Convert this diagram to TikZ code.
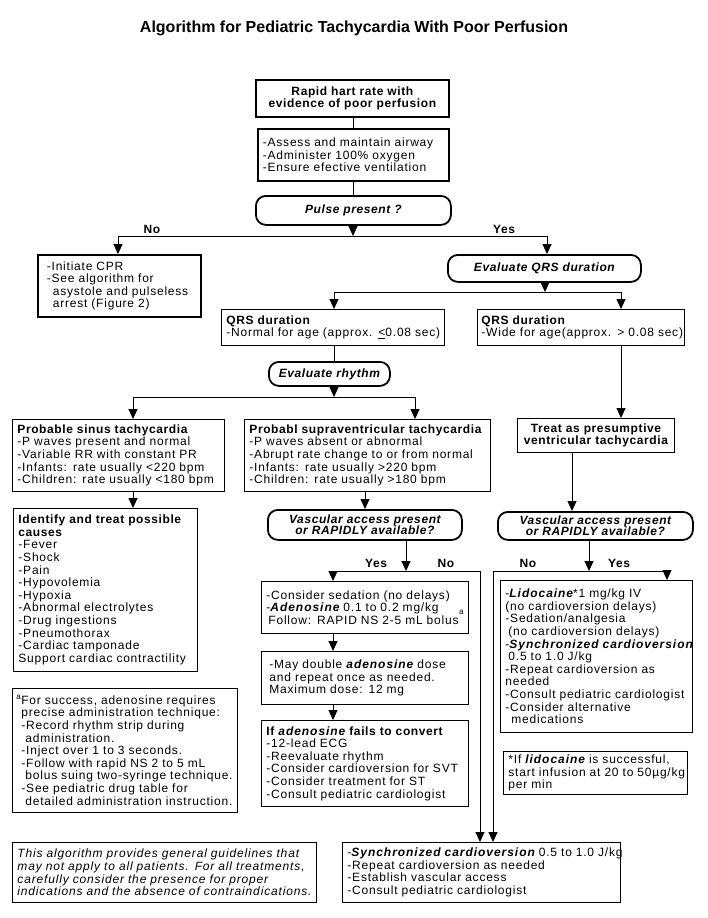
\documentclass[tikz,border=0pt]{standalone}
\usepackage{fontspec}
\setmainfont{Liberation Sans}[UprightFeatures={LetterSpace=6.5}, ItalicFeatures={LetterSpace=7}, BoldFeatures={LetterSpace=5}, BoldItalicFeatures={LetterSpace=5}]
\newfontfamily\titlefont{Liberation Sans}
\newfontfamily\bifam{Liberation Sans}[LetterSpace=8]
\usetikzlibrary{arrows.meta}
\newcommand\bfi[1]{{\bifam\bfseries\itshape #1}}
\newcommand\bodyfont{\fontsize{12}{12.6}\selectfont}
\newcommand\pillfont{\fontsize{12}{11.5}\selectfont\bfseries\itshape}
\begin{document}
\begin{tikzpicture}[x=1pt,y=-1pt,
  cbox/.style={draw, line width=0.9pt, anchor=north west, inner xsep=5pt, inner ysep=1pt, align=center, font=\bodyfont\bfseries},
  box/.style={draw, line width=0.9pt, anchor=north west, inner xsep=5pt, inner ysep=1pt, align=left, font=\bodyfont,
    execute at begin node={\rightskip=0pt plus 1fil minus 1000pt}},
  thickbox/.style={line width=1.8pt},
  pill/.style={draw, line width=1.8pt, rounded corners=10pt, anchor=north west, inner sep=0pt, align=center, font=\pillfont},
  lbl/.style={font=\bodyfont\bfseries, inner sep=0pt},
  conn/.style={line width=0.9pt},
  arr/.style={conn, -{Triangle[width=9pt,length=10pt]}}]
\useasboundingbox[fill=white] (0,0) rectangle (708,918);

\node[font=\titlefont\fontsize{16}{18}\selectfont\bfseries, inner sep=0pt] (title) at (354,28) {Algorithm for Pediatric Tachycardia With Poor Perfusion};

\node[cbox, thickbox, text width=183pt, minimum height=37pt] (b1) at (255,79) {Rapid hart rate with\\evidence of poor perfusion};
\node[box, thickbox, text width=181pt, minimum height=52pt] (b2) at (257,128) {-Assess and maintain airway\\-Administer 100\% oxygen\\-Ensure efective ventilation};
\node[pill, minimum width=195pt, minimum height=29pt] (pulse) at (255,195) {Pulse present ?};

\node[lbl] (no1) at (152,229) {No};
\node[lbl] (yes1) at (504,229) {Yes};

\node[box, thickbox, inner xsep=9pt, text width=145pt, minimum height=62pt] (cpr) at (37,254) {-Initiate CPR\\-See algorithm for\\\hspace*{6pt}asystole and pulseless\\\hspace*{6pt}arrest (Figure 2)};
\node[pill, minimum width=193pt, minimum height=27pt] (evq) at (447,254) {Evaluate QRS duration};

\node[box, text width=213pt, minimum height=36pt] (qrsL) at (221,309) {\textbf{QRS duration}\\-Normal for age (approx. \underline{<}0.08 sec)};
\node[box, inner xsep=4pt, text width=199pt, minimum height=36pt] (qrsR) at (477,309) {\textbf{QRS duration}\\-Wide for age(approx. > 0.08 sec)};

\node[pill, minimum width=121pt, minimum height=24pt] (rhythm) at (268,361) {Evaluate rhythm};

\node[box, text width=202pt, minimum height=72pt] (sinus) at (12,419) {\textbf{Probable sinus tachycardia}\\-P waves present and normal\\-Variable RR with constant PR\\-Infants: rate usually <220 bpm\\-Children: rate usually <180 bpm};
\node[box, text width=236pt, minimum height=72pt] (supra) at (244,419) {\textbf{Probabl supraventricular tachycardia}\\-P waves absent or abnormal\\-Abrupt rate change to or from normal\\-Infants: rate usually >220 bpm\\-Children: rate usually >180 bpm};
\node[cbox, text width=147pt, minimum height=34pt] (treat) at (517,418) {Treat as presumptive\\ventricular tachycardia};

\node[box, text width=174pt, minimum height=163pt] (ident) at (13,508) {\textbf{Identify and treat possible}\\\textbf{causes}\\-Fever\\-Shock\\-Pain\\-Hypovolemia\\-Hypoxia\\-Abnormal electrolytes\\-Drug ingestions\\-Pneumothorax\\-Cardiac tamponade\\Support cardiac contractility};

\node[pill, minimum width=194pt, minimum height=30pt] (vasc1) at (267,509) {Vascular access present\\or RAPIDLY available?};
\node[pill, minimum width=195pt, minimum height=28pt] (vasc2) at (497,511) {Vascular access present\\or RAPIDLY available?};

\node[lbl] (yes2) at (376,563) {Yes};
\node[lbl] (no2) at (446,563) {No};
\node[lbl] (no3) at (528,563) {No};
\node[lbl] (yes3) at (619,563) {Yes};

\node[box, text width=197pt, minimum height=52pt] (sed) at (261,581) {-Consider sedation (no delays)\\-\bfi{Adenosine} 0.1 to 0.2 mg/kg\hfill\raisebox{-3pt}{\fontsize{8}{8}\selectfont a}\\\hspace*{2pt}Follow: RAPID NS 2-5 mL bolus};
\node[box, text width=197pt, minimum height=53pt] (dbl) at (261,651) {\hspace*{3pt}-May double \bfi{adenosine} dose\\\hspace*{3pt}and repeat once as needed.\\\hspace*{3pt}Maximum dose: 12 mg};
\node[box, text width=197pt, minimum height=86pt] (fail) at (261,720) {\textbf{If \bfi{adenosine} fails to convert}\\-12-lead ECG\\-Reevaluate rhythm\\-Consider cardioversion for SVT\\-Consider treatment for ST\\-Consult pediatric cardiologist};

\node[box, text width=182pt, minimum height=152pt] (lido) at (500,580) {-\bfi{Lidocaine}*1 mg/kg IV\\(no cardioversion delays)\\-Sedation/analgesia\\\hspace*{3pt}(no cardioversion delays)\\-\bfi{Synchronized cardioversion}\\\hspace*{3pt}0.5 to 1.0 J/kg\\-Repeat cardioversion as\\needed\\-Consult pediatric cardiologist\\-Consider alternative\\\hspace*{6pt}medications};
\node[box, text width=174pt, minimum height=43pt] (lnote) at (503,751) {*If \bfi{lidocaine} is successful,\\start infusion at 20 to 50µg/kg\\per min};

\node[box, inner xsep=4pt, text width=217pt, minimum height=124pt] (anote) at (12,688) {\textsuperscript{a}For success, adenosine requires\\\hspace*{5pt}precise administration technique:\\\hspace*{5pt}-Record rhythm strip during\\\hspace*{9pt}administration.\\\hspace*{5pt}-Inject over 1 to 3 seconds.\\\hspace*{5pt}-Follow with rapid NS 2 to 5 mL\\\hspace*{9pt}bolus suing two-syringe technique.\\\hspace*{5pt}-See pediatric drug table for\\\hspace*{9pt}detailed administration instruction.};

\node[box, text width=294pt, minimum height=60pt, font=\bodyfont\itshape] (disc) at (12,842) {This algorithm provides general guidelines that\\may not apply to all patients. For all treatments,\\carefully consider the presence for proper\\indications and the absence of contraindications.};
\node[box, text width=268pt, minimum height=60pt] (final) at (342,842) {-\bfi{Synchronized cardioversion} 0.5 to 1.0 J/kg\\-Repeat cardioversion as needed\\-Establish vascular access\\-Consult pediatric cardiologist};

% junction coordinates
\coordinate (xm) at (353,0);
\coordinate (j1) at (353,236);
\coordinate (j1L) at (118,236);
\coordinate (j1R) at (547,236);
\coordinate (j2) at (545,292);
\coordinate (j2L) at (334,292);
\coordinate (j2R) at (621,292);
\coordinate (j3) at (334,397);
\coordinate (j3L) at (133,397);
\coordinate (j3R) at (415,397);
\coordinate (xs) at (365,0);
\coordinate (j4) at (406,571);
\coordinate (j4L) at (333,571);
\coordinate (j4R) at (480,571);
\coordinate (xt) at (572,0);
\coordinate (j5) at (589,571);
\coordinate (j5L) at (493,571);
\coordinate (j5R) at (667,571);

\draw[conn] (b1.south -| xm) -- (b2.north -| xm);
\draw[conn] (b2.south -| xm) -- (pulse.north -| xm);
\draw[arr] (pulse.south -| xm) -- (j1);
\draw[conn] (j1L) -- (j1R);
\draw[arr] (j1L) -- (cpr.north -| j1L);
\draw[arr] (j1R) -- (evq.north -| j1R);
\draw[arr] (evq.south -| j2) -- (j2);
\draw[conn] (j2L) -- (j2R);
\draw[arr] (j2L) -- (qrsL.north -| j2L);
\draw[arr] (j2R) -- (qrsR.north -| j2R);
\draw[conn] (qrsL.south -| j2L) -- (rhythm.north -| j2L);
\draw[arr] (rhythm.south -| j3) -- (j3);
\draw[conn] (j3L) -- (j3R);
\draw[arr] (j3L) -- (sinus.north -| j3L);
\draw[arr] (j3R) -- (supra.north -| j3R);
\draw[arr] (qrsR.south -| j2R) -- (treat.north -| j2R);
\draw[arr] (sinus.south -| j3L) -- (ident.north -| j3L);
\draw[arr] (supra.south -| xs) -- (vasc1.north -| xs);
\draw[arr] (vasc1.south -| j4) -- (j4);
\draw[conn] (j4L) -- (j4R);
\draw[arr] (j4L) -- (sed.north -| j4L);
\draw[arr] (sed.south -| j4L) -- (dbl.north -| j4L);
\draw[arr] (dbl.south -| j4L) -- (fail.north -| j4L);
\draw[arr] (j4R) -- (final.north -| j4R);
\draw[arr] (treat.south -| xt) -- (vasc2.north -| xt);
\draw[arr] (vasc2.south -| j5) -- (j5);
\draw[conn] (j5L) -- (j5R);
\draw[arr] (j5R) -- (lido.north -| j5R);
\draw[arr] (j5L) -- (final.north -| j5L);
\end{tikzpicture}
\end{document}
